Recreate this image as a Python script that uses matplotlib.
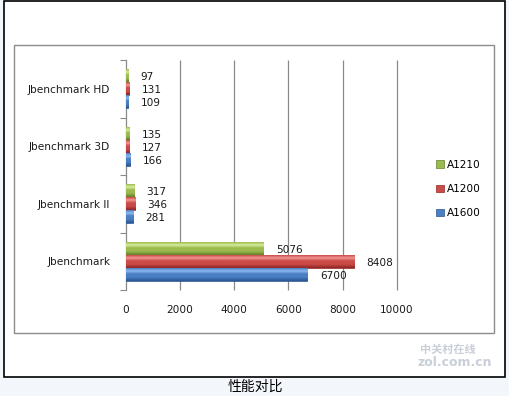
import matplotlib
matplotlib.use("Agg")
import matplotlib.pyplot as plt
import numpy as np
from matplotlib.patches import Rectangle
from matplotlib.colors import LinearSegmentedColormap

categories = ["Jbenchmark", "Jbenchmark II", "Jbenchmark 3D", "Jbenchmark HD"]
series_names = ["A1600", "A1200", "A1210"]
a1600 = [6700, 281, 166, 109]
a1200 = [8408, 346, 127, 131]
a1210 = [5076, 317, 135, 97]
series_values = [a1600, a1200, a1210]
colors = ["#4a7fc4", "#cc4a47", "#9bbb4f"]
light = ["#8fbaf0", "#f09894", "#d8eca0"]
dark = ["#2a5690", "#8e2624", "#637f2a"]
xticks = [0, 2000, 4000, 6000, 8000, 10000]

W, H = 509, 396
fig = plt.figure(figsize=(W / 100, H / 100), dpi=100)
fig.patch.set_facecolor("#f3f7fc")

def fx(x): return x / W
def fy(y): return 1 - y / H

# white framed box
fig.patches.append(Rectangle((fx(4), fy(377)), fx(505) - fx(4), fy(1) - fy(377),
                             transform=fig.transFigure, facecolor="white",
                             edgecolor="black", linewidth=1.2, zorder=-2))
# inner chart border
fig.patches.append(Rectangle((fx(14), fy(333)), fx(494) - fx(14), fy(45) - fy(333),
                             transform=fig.transFigure, facecolor="white",
                             edgecolor="#8c8c8c", linewidth=1.0, zorder=-1))

ax = fig.add_axes([fx(125.5), fy(290), fx(397) - fx(125.5), fy(60) - fy(290)])
ax.set_zorder(2)
ax.set_facecolor("none")

bh = 0.225
offsets = [-bh, 0, bh]
y = np.arange(len(categories))
handles = []
for i, (name, vals) in enumerate(zip(series_names, series_values)):
    bars = ax.barh(y + offsets[i], vals, height=bh, color=colors[i],
                   edgecolor=dark[i], linewidth=0.5, zorder=3, label=name)
    handles.append(bars)
    cmap = LinearSegmentedColormap.from_list(
        "g%d" % i,
        [(0.0, dark[i]), (0.3, colors[i]), (0.55, colors[i]), (0.78, light[i]), (1.0, colors[i])])
    grad = np.linspace(0, 1, 64).reshape(-1, 1)
    for b, v in zip(bars, vals):
        im = ax.imshow(grad, extent=(b.get_x(), b.get_x() + b.get_width(), b.get_y(), b.get_y() + b.get_height()),
                       aspect="auto", cmap=cmap, zorder=3.5, origin="lower")
        im.set_clip_path(b)
        ax.annotate(str(v), (v, b.get_y() + b.get_height() / 2), xytext=(9, -1),
                    textcoords="offset points", va="center", ha="left",
                    fontsize=7.6, color="#1a1a1a", zorder=5)

ax.set_xlim(0, 10000)
ax.set_ylim(-0.5, 3.5)
ax.set_xticks(xticks)
ax.set_xticklabels([str(t) for t in xticks])
ax.tick_params(axis="x", length=0, pad=11, labelsize=7.6, colors="#1a1a1a")
ax.vlines(xticks[1:], -0.5, 3.5, color="#8a8a8a", linewidth=0.9, zorder=1, clip_on=False)

ax.set_yticks([-0.5, 0.5, 1.5, 2.5, 3.5])
ax.set_yticklabels([])
ax.set_yticks(y, minor=True)
ax.set_yticklabels(categories, minor=True)
ax.tick_params(axis="y", which="major", length=4, color="#8a8a8a", direction="out")
ax.tick_params(axis="y", which="minor", length=0, pad=11, labelsize=7.6, labelcolor="#1a1a1a")

for s in ["top", "right", "bottom"]:
    ax.spines[s].set_visible(False)
ax.spines["left"].set_color("#8a8a8a")
ax.spines["left"].set_linewidth(0.9)

leg = fig.legend(handles=handles[::-1], labels=series_names[::-1],
                 loc="center left", bbox_to_anchor=(fx(431), fy(189)),
                 frameon=False, fontsize=7.6, handlelength=0.7, handleheight=0.7,
                 handletextpad=0.3, labelspacing=1.35, borderpad=0)

# watermark
fig.text(fx(420), fy(349), "中关村在线", family=["Noto Sans CJK SC", "DejaVu Sans"],
         fontsize=8, color="#c9cfd8", weight="bold", va="center", ha="left")
fig.text(fx(418), fy(362), "zol.com.cn", fontsize=9, color="#c9cfd8", weight="bold",
         va="center", ha="left")

fig.text(fx(255), fy(387), "性能对比", family=["Noto Sans CJK SC", "DejaVu Sans"],
         fontsize=10, color="black", ha="center", va="center")

fig.savefig("out.png", dpi=100, facecolor=fig.get_facecolor())
